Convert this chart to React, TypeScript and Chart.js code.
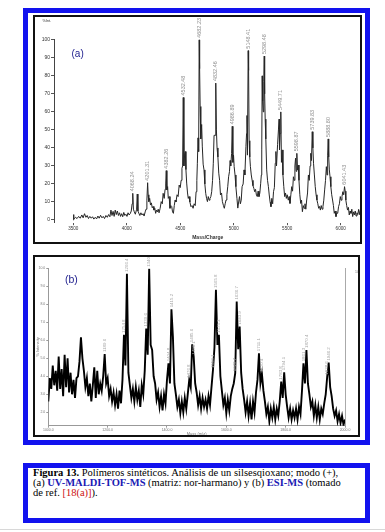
import React, { useEffect, useRef } from "react";
import { Chart, registerables } from "chart.js";

Chart.register(...registerables);

// ---------- Panel (a): UV-MALDI-TOF-MS ----------
const maldiLow: [number, number][] = [
  [3500, 0], [3502, 3], [3506, 0.5], [3520, 1.5], [3535, 0.8], [3550, 2], [3565, 1], [3580, 2.8], [3592, 1.2],
  [3605, 3.5], [3618, 1.5], [3630, 2.5], [3642, 0.8], [3655, 2], [3668, 1], [3680, 1.8], [3692, 0.5], [3705, 1.5],
  [3718, 0.6], [3730, 2.2], [3742, 1], [3755, 2.6], [3768, 1.2], [3780, 2], [3792, 0.8], [3805, 2.5], [3818, 1.5],
  [3830, 3], [3842, 1.8], [3852, 5.5], [3862, 2.5], [3872, 4.8], [3882, 2], [3892, 5.5], [3902, 3], [3912, 5],
  [3922, 2.5], [3932, 4], [3942, 2], [3952, 3.5], [3962, 1.8], [3972, 4.2], [3982, 2.5], [3992, 3.2], [4002, 2],
  [4012, 4], [4022, 2.8], [4032, 3.5], [4042, 5], [4050, 9], [4056, 14.8], [4062, 6], [4070, 4.6], [4080, 3.2],
  [4092, 6], [4098, 14.4], [4104, 5], [4112, 3.9], [4122, 2.5], [4132, 4], [4142, 2.8], [4152, 3.5], [4162, 2.2],
  [4172, 4.5], [4180, 6], [4188, 11], [4195, 20.7], [4200, 14], [4206, 10.2], [4214, 12], [4222, 8.3], [4230, 9.5],
  [4238, 6.8], [4246, 7.5], [4254, 5.5], [4262, 6.5], [4270, 3.7], [4278, 5.5], [4286, 4.5], [4294, 6],
];
const maldiMid: [number, number][] = [
  [4302, 4], [4312, 6.5], [4322, 10.2], [4332, 9], [4340, 14.8], [4350, 12], [4358, 17], [4364, 20], [4369, 27.4],
  [4375, 16.7], [4382, 18.5], [4388, 12], [4396, 13], [4404, 6.5], [4412, 8], [4420, 7.5], [4428, 4.5], [4436, 3.7],
  [4444, 8], [4452, 11.1], [4460, 10], [4470, 14], [4480, 13], [4490, 19.4], [4500, 18], [4508, 22], [4516, 28.7],
  [4522, 30], [4528, 68], [4534, 30], [4540, 36], [4547, 38], [4553, 28], [4560, 20.5], [4568, 15], [4575, 12],
  [4582, 13], [4590, 10], [4600, 7.4], [4610, 8], [4620, 6.5], [4630, 9], [4640, 8], [4648, 15.7], [4655, 22],
  [4660, 31.5], [4666, 45.6], [4672, 38], [4677, 100], [4681, 84], [4686, 63], [4692, 45], [4700, 53], [4706, 41],
  [4714, 31], [4722, 27.8], [4730, 20], [4738, 14.8], [4746, 12], [4754, 10.2], [4762, 13], [4770, 11], [4778, 12],
  [4786, 13], [4794, 15.7], [4802, 22], [4809, 31.5], [4816, 47], [4826, 47], [4832, 76], [4838, 50], [4844, 40],
  [4852, 35], [4860, 26], [4868, 22], [4876, 13.9], [4886, 15], [4894, 10.2], [4904, 8], [4912, 6.5], [4920, 9],
  [4928, 11.1], [4936, 14], [4944, 18.5], [4952, 24], [4960, 26.8], [4966, 33], [4972, 30], [4980, 37], [4986, 52],
  [4992, 32], [4998, 36], [5004, 29.6], [5012, 25], [5020, 18.5], [5030, 12], [5038, 6.6], [5046, 10], [5054, 13],
  [5062, 9], [5070, 11], [5078, 18.5], [5088, 20], [5096, 27.8], [5104, 25], [5114, 40.7], [5120, 48], [5124, 58],
  [5128, 36], [5135, 94], [5139, 83], [5144, 44], [5150, 35], [5156, 29.6], [5164, 25], [5172, 22], [5180, 19],
  [5188, 17.6], [5196, 15.7],
];
const maldiHigh: [number, number][] = [
  [5204, 17], [5212, 13.9], [5220, 13], [5228, 16], [5236, 13], [5244, 15], [5252, 20.4], [5258, 25], [5262, 38.9],
  [5266, 80], [5270, 66], [5276, 60], [5281, 77], [5285, 91], [5289, 70], [5294, 56], [5300, 45], [5308, 27.8],
  [5316, 22], [5324, 18.5], [5332, 13.9], [5340, 10], [5348, 7.4], [5356, 12], [5364, 9], [5372, 15.7], [5380, 18],
  [5388, 31.5], [5394, 38], [5400, 30], [5410, 42], [5418, 50], [5424, 56], [5428, 39], [5434, 48], [5440, 60],
  [5446, 32], [5452, 38.9], [5460, 25], [5468, 18.5], [5476, 13], [5484, 15], [5492, 12], [5500, 14], [5510, 11],
  [5518, 13], [5526, 9.2], [5534, 14], [5542, 18.5], [5550, 16], [5558, 24], [5566, 22], [5572, 30], [5578, 34.3],
  [5584, 27], [5590, 37], [5596, 27.8], [5603, 30.5], [5610, 22], [5618, 14], [5626, 9.2], [5634, 11], [5642, 4.6],
  [5650, 8], [5658, 6.5], [5666, 9], [5674, 6], [5682, 11.1], [5690, 15], [5698, 25], [5706, 22], [5714, 30],
  [5720, 37], [5727, 33], [5734, 49], [5740, 40], [5746, 31.5], [5754, 25], [5762, 18.5], [5770, 14], [5778, 11.1],
  [5786, 9], [5794, 6.5], [5802, 7.5], [5810, 5.5], [5818, 8], [5826, 6], [5834, 7.4], [5842, 11], [5850, 16.7],
  [5858, 22], [5866, 29.6], [5872, 25], [5878, 36], [5883, 45], [5888, 35], [5894, 27.8], [5900, 24], [5908, 18.5],
  [5916, 14], [5924, 11.1], [5932, 8], [5940, 3.7], [5948, 5], [5956, 1.9], [5964, 4], [5972, 3.7], [5980, 7.4],
  [5988, 9], [5996, 13], [6004, 11], [6012, 13], [6020, 15.7], [6028, 14], [6036, 18.5], [6042, 16], [6048, 11.1],
  [6056, 8], [6064, 5.5], [6072, 7], [6080, 2.8], [6088, 5], [6096, 3.7], [6104, 6], [6112, 1.9], [6120, 4.5],
  [6128, 2.8], [6136, 5], [6144, 2.2], [6152, 4], [6160, 3], [6168, 5.9], [6176, 3], [6184, 5.5], [6192, 4],
];
const maldiXTicks = [3500, 4000, 4500, 5000, 5500, 6000];
const maldiXTickLabels = ["3500", "4000", "4500", "5000", "5500", "6000"];
const maldiYTicks = [0, 10, 20, 30, 40, 50, 60, 70, 80, 90, 100];
const maldiPeakMz = [4056, 4195, 4369, 4528, 4677, 4832, 4986, 5135, 5285, 5440, 5590, 5734, 5883, 6036];
const maldiPeakLabels = [
  "4068.24", "4201.31", "4382.26", "4532.48", "4682.23", "4832.46", "4986.89",
  "5148.41", "5298.48", "5449.71", "5598.87", "5739.83", "5888.80", "6041.43",
];

// ---------- Panel (b): ESI-MS ----------
const esiStart = 1000;
const esiStep = 5;
const esiIntensity = [
  2.6, 3.9, 3.3, 4.6, 3.5, 4.3, 3.2, 5.1, 3.3, 4.4, 2.9, 5.2, 3.4, 5.0, 3.1, 4.2, 3.0, 3.8, 2.8, 3.9,
  4.0, 4.8, 6.17, 5.0, 4.3, 3.4, 3.9, 2.9, 3.6, 2.6, 3.5, 4.5, 2.8, 4.3, 3.0, 3.6, 3.2, 4.0, 5.24, 3.6,
  3.9, 2.9, 3.3, 2.6, 3.1, 2.4, 3.0, 2.2, 3.2, 2.5, 3.8, 6.3, 4.6, 9.69, 4.2, 3.5, 2.8, 3.3, 2.6, 3.4,
  2.7, 3.2, 2.3, 3.5, 3.0, 4.3, 6.65, 5.2, 9.97, 5.74, 5.46, 4.0, 3.6, 2.7, 3.1, 2.3, 2.9, 2.1, 3.0, 2.5,
  3.8, 4.72, 3.6, 7.72, 6.2, 3.6, 3.0, 2.3, 2.7, 1.95, 2.6, 2.0, 2.8, 2.2, 3.0, 3.8, 3.4, 5.78, 5.09, 3.6,
  3.1, 2.4, 2.9, 2.2, 2.8, 2.3, 2.7, 2.2, 2.9, 2.4, 3.4, 4.35, 5.6, 8.8, 5.74, 6.3, 4.0, 3.2, 2.4, 2.8,
  1.95, 2.7, 2.1, 2.9, 3.3, 3.6, 4.17, 8.15, 5.5, 6.76, 4.2, 3.3, 2.7, 2.0, 2.6, 1.8, 2.5, 1.6, 2.6, 2.0,
  3.1, 3.8, 5.28, 3.6, 4.13, 3.2, 2.6, 1.9, 2.3, 1.5, 2.2, 1.7, 2.3, 1.6, 2.2, 1.8, 2.6, 3.7, 2.8, 4.22,
  3.0, 2.3, 1.7, 2.2, 1.6, 2.1, 1.7, 2.2, 1.6, 2.3, 1.9, 3.2, 4.72, 3.6, 5.46, 3.6, 3.0, 2.3, 2.6, 1.8,
  2.4, 1.7, 2.3, 1.6, 2.2, 1.9, 2.5, 3.0, 3.98, 4.76, 3.4, 2.9, 2.2, 1.8, 2.1, 1.5, 1.9, 1.4, 1.8, 1.3,
  1.6,
];
const esiXTicks = [1000, 1200, 1400, 1600, 1800, 2000];
const esiXTickLabels = ["1000.0", "1200.0", "1400.0", "1600.0", "1800.0", "2000.0"];
const esiYTicks = [2, 3, 4, 5, 6, 7, 8, 9, 10];
const esiYTickLabels = ["2.0", "3.0", "4.0", "5.0", "6.0", "7.0", "8.0", "9.0", "10.0"];
const esiRightLabel = "100.0";
const esiPeakMz = [1190, 1255, 1265, 1330, 1340, 1405, 1415, 1475, 1485, 1490, 1555, 1565, 1575, 1630, 1635, 1645, 1710, 1720, 1785, 1795, 1860, 1870, 1940, 1945];
const esiPeakLabels = [
  "1189.6", "1254.8", "1266.4", "1330.6", "1340.3", "1404.8", "1415.2", "1476.8", "1485.6", "1491.1",
  "1553.1", "1565.8", "1575.3", "1628.7", "1636.7", "1643.9", "1711.1", "1720.4", "1783.8", "1794.1",
  "1861.3", "1870.4", "1938.6", "1946.2",
];

const BLUE = "#1212ee";
const SANS = '"Liberation Sans", Arial, sans-serif';

const peakLabelPlugin = {
  id: "peakLabels",
  afterDatasetsDraw(chart: any, _args: any, opts: any) {
    if (!opts || !opts.items) return;
    const { ctx } = chart;
    const xs = chart.scales.x;
    const ys = chart.scales.y;
    ctx.save();
    ctx.font = opts.font;
    ctx.fillStyle = opts.color;
    ctx.textAlign = "left";
    ctx.textBaseline = "middle";
    for (const it of opts.items) {
      const px = xs.getPixelForValue(it.x);
      const py = ys.getPixelForValue(it.y) - opts.gap;
      ctx.save();
      ctx.translate(px, py);
      ctx.rotate(-Math.PI / 2);
      ctx.fillText(it.text, 0, 0);
      ctx.restore();
    }
    ctx.restore();
  },
};

function MaldiChart() {
  const ref = useRef<HTMLCanvasElement | null>(null);
  useEffect(() => {
    const spectrum = [...maldiLow, ...maldiMid, ...maldiHigh];
    const items = maldiPeakMz.map((mz, i) => {
      const pt = spectrum.find((p) => p[0] === mz);
      return { x: mz, y: pt ? pt[1] : 0, text: maldiPeakLabels[i] };
    });
    const chart = new Chart(ref.current as HTMLCanvasElement, {
      type: "line",
      data: {
        datasets: [
          {
            data: spectrum.map(([x, y]) => ({ x, y })),
            borderColor: "#262626",
            borderWidth: 1,
            pointRadius: 0,
            tension: 0,
          },
        ],
      },
      options: {
        animation: false,
        responsive: false,
        events: [],
        layout: { padding: { top: 24.3, right: 0.5, left: 0, bottom: 0 } },
        plugins: {
          legend: { display: false },
          tooltip: { enabled: false },
          peakLabels: { items, font: `5.5px ${SANS}`, color: "#8f8f8f", gap: 2 },
        } as any,
        scales: {
          x: {
            type: "linear",
            min: 3319.6,
            max: 6194.5,
            afterBuildTicks: (s: any) => {
              s.ticks = maldiXTicks.map((v) => ({ value: v }));
            },
            afterFit: (s: any) => {
              s.height = 21.3;
            },
            grid: { display: true, drawOnChartArea: false, tickLength: 2.5, color: "#555" },
            border: { display: false },
            ticks: {
              font: { size: 4.6, family: SANS },
              color: "#333",
              padding: 0.5,
              maxRotation: 0,
              autoSkip: false,
              callback: (_v: any, i: number) => maldiXTickLabels[i],
            },
            title: {
              display: true,
              text: "Mass/Charge",
              font: { size: 5, family: SANS, weight: "bold" },
              color: "#333",
              padding: { top: 0, bottom: 3.7 },
            },
          },
          y: {
            min: -1.5,
            max: 100.3,
            afterBuildTicks: (s: any) => {
              s.ticks = maldiYTicks.map((v) => ({ value: v }));
            },
            afterFit: (s: any) => {
              s.width = 21;
            },
            grid: { display: true, drawOnChartArea: false, tickLength: 3, color: "#555" },
            border: { display: true, color: "#444", width: 1 },
            ticks: { font: { size: 5, family: SANS }, color: "#333", padding: 1, autoSkip: false },
          },
        },
      } as any,
      plugins: [peakLabelPlugin as any],
    });
    return () => chart.destroy();
  }, []);
  return (
    <canvas
      ref={ref}
      width={329}
      height={229}
      style={{ position: "absolute", left: 33, top: 15, width: 329, height: 229 }}
    />
  );
}

function EsiChart() {
  const ref = useRef<HTMLCanvasElement | null>(null);
  useEffect(() => {
    const pts = esiIntensity.map((y, i) => ({ x: esiStart + i * esiStep, y }));
    const items = esiPeakMz.map((mz, i) => ({
      x: mz,
      y: esiIntensity[Math.round((mz - esiStart) / esiStep)],
      text: esiPeakLabels[i],
    }));
    const chart = new Chart(ref.current as HTMLCanvasElement, {
      type: "line",
      data: {
        datasets: [
          {
            data: pts,
            borderColor: "#000",
            borderWidth: 1.9,
            pointRadius: 0,
            tension: 0,
            borderJoinStyle: "miter",
          },
        ],
      },
      options: {
        animation: false,
        responsive: false,
        events: [],
        layout: { padding: { top: 13.3, right: 0, left: 0, bottom: 0 } },
        plugins: {
          legend: { display: false },
          tooltip: { enabled: false },
          peakLabels: { items, font: `4.4px ${SANS}`, color: "#a8a8a8", gap: 2 },
        } as any,
        scales: {
          x: {
            type: "linear",
            min: 1000,
            max: 2000,
            afterBuildTicks: (s: any) => {
              s.ticks = esiXTicks.map((v) => ({ value: v }));
            },
            afterFit: (s: any) => {
              s.height = 11.3;
            },
            grid: { display: true, drawOnChartArea: false, tickLength: 2, color: "#999" },
            border: { display: true, color: "#999", width: 1 },
            ticks: {
              font: { size: 3.5, family: SANS },
              color: "#777",
              padding: 0,
              maxRotation: 0,
              autoSkip: false,
              callback: (_v: any, i: number) => esiXTickLabels[i],
            },
            title: {
              display: true,
              text: "Mass (m/z)",
              font: { size: 4, family: SANS },
              color: "#777",
              padding: { top: 0, bottom: 1.2 },
            },
          },
          y: {
            position: "left",
            min: 1.255,
            max: 10,
            afterBuildTicks: (s: any) => {
              s.ticks = esiYTicks.map((v) => ({ value: v }));
            },
            afterFit: (s: any) => {
              s.width = 15.3;
            },
            grid: { display: true, drawOnChartArea: false, tickLength: 2, color: "#999" },
            border: { display: true, color: "#999", width: 1 },
            ticks: {
              font: { size: 3.5, family: SANS },
              color: "#777",
              padding: 1,
              autoSkip: false,
              callback: (_v: any, i: number) => esiYTickLabels[i],
            },
            title: {
              display: true,
              text: "% Intensity",
              font: { size: 4, family: SANS },
              color: "#777",
              padding: { top: 2.6, bottom: 0 },
            },
          },
          y2: {
            position: "right",
            min: 1.255,
            max: 10,
            afterBuildTicks: (s: any) => {
              s.ticks = [{ value: 10 }];
            },
            afterFit: (s: any) => {
              s.width = 15;
            },
            grid: { display: false },
            border: { display: true, color: "#aaa", width: 1 },
            ticks: {
              font: { size: 3.5, family: SANS },
              color: "#777",
              padding: 2,
              labelOffset: 4,
              callback: () => esiRightLabel,
            },
          },
        },
      } as any,
      plugins: [peakLabelPlugin as any],
    });
    return () => chart.destroy();
  }, []);
  return (
    <canvas
      ref={ref}
      width={327}
      height={182}
      style={{ position: "absolute", left: 33, top: 255, width: 327, height: 182 }}
    />
  );
}

export default function App() {
  const abs = (s: React.CSSProperties): React.CSSProperties => ({ position: "absolute", ...s });
  return (
    <div style={abs({ left: 0, top: 0, width: 385, height: 532, background: "#fff", overflow: "hidden" })}>
      <div style={abs({ left: 23, top: 8, width: 347, height: 437, border: `5px solid ${BLUE}`, boxSizing: "border-box" })} />
      <MaldiChart />
      <div style={abs({ left: 33, top: 15, width: 329, height: 229, border: "2px solid #111", boxSizing: "border-box" })} />
      <div style={abs({ left: 42.5, top: 19, fontFamily: SANS, fontSize: 3.8, lineHeight: "4px", color: "#333", whiteSpace: "nowrap" })}>%Int.</div>
      <div style={abs({ left: 71.5, top: 49, fontFamily: SANS, fontSize: 10, lineHeight: "10px", color: "#1c1c8c", whiteSpace: "nowrap" })}>(a)</div>

      <EsiChart />
      <div style={abs({ left: 33, top: 255, width: 327, height: 182, border: "2px solid #111", boxSizing: "border-box" })} />
      <div style={abs({ left: 65, top: 274, fontFamily: SANS, fontSize: 10.5, lineHeight: "10px", color: "#1c1c8c", whiteSpace: "nowrap" })}>(b)</div>

      <div
        style={abs({
          left: 23,
          top: 463,
          width: 347,
          height: 60,
          border: `5px solid ${BLUE}`,
          boxSizing: "border-box",
          padding: "0 0 0 5px",
          fontFamily: '"Liberation Serif", "Times New Roman", serif',
          fontSize: 10.5,
          lineHeight: "10px",
          color: "#000",
          whiteSpace: "nowrap",
        })}
      >
        <b>Figura 13.</b> Polímeros sintéticos. Análisis de un silsesqioxano; modo (+),
        <br />
        (a) <b style={{ color: "#1a1ab4" }}>UV-MALDI-TOF-MS</b> (matriz: nor-harmano) y (b){" "}
        <b style={{ color: "#1a1ab4" }}>ESI-MS</b> (tomado
        <br />
        de ref. <span style={{ color: "#cc1010" }}>[18(a)]</span>).
      </div>
      <div style={abs({ left: 0, top: 529, width: 385, height: 1, background: "#d8d8d8" })} />
    </div>
  );
}
